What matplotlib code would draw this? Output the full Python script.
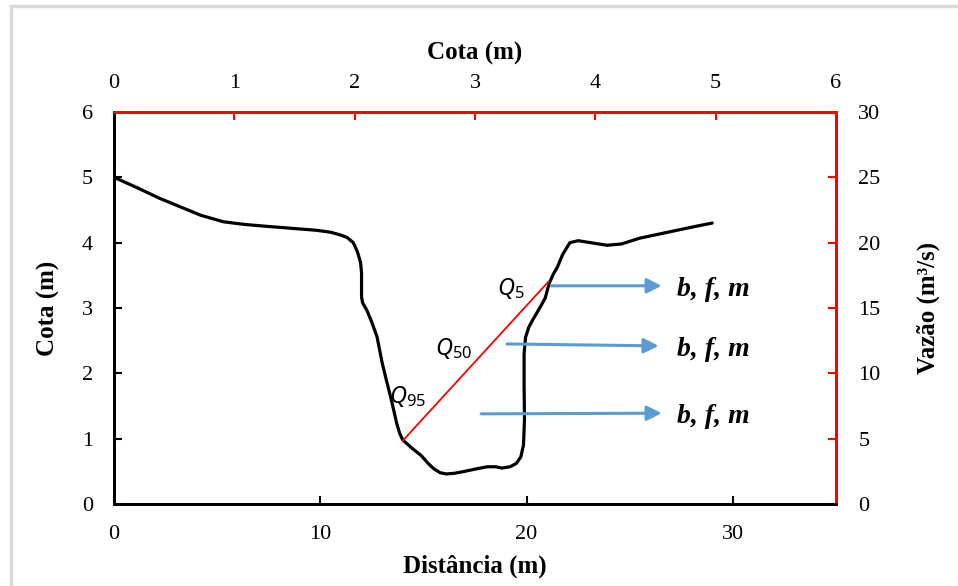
import numpy as np
import matplotlib
matplotlib.use('Agg')
import matplotlib.pyplot as plt
from matplotlib.patches import Rectangle

plt.rcParams['mathtext.fontset'] = 'custom'
plt.rcParams['mathtext.rm'] = 'Noto Sans'
plt.rcParams['mathtext.it'] = 'Noto Sans:italic'

# cross-section profile: distance (m) vs cota (m)
dist = [0.0, 0.5, 1.2, 2.2, 3.2, 4.2, 5.3, 6.3, 7.4, 8.6, 9.8, 10.5, 10.95, 11.3, 11.6,
        11.8, 11.95, 12.0, 12.0, 12.05, 12.25, 12.5, 12.75, 13.0, 13.2, 13.4, 13.55, 13.7,
        13.85, 14.0, 14.5, 14.9, 15.2, 15.5, 15.8, 16.1, 16.5, 17.0, 17.6, 18.1, 18.5,
        18.8, 19.2, 19.5, 19.72, 19.85, 19.9, 19.88, 19.88, 19.95, 20.1, 20.3, 20.6,
        20.9, 21.1, 21.3, 21.5, 21.75, 22.1, 22.5, 23.1, 23.9, 24.6, 25.5, 26.4, 27.3,
        28.2, 29.0]
cota = [5.0, 4.93, 4.83, 4.68, 4.55, 4.42, 4.32, 4.28, 4.25, 4.22, 4.19, 4.16, 4.12, 4.08, 4.0,
        3.86, 3.7, 3.54, 3.17, 3.08, 2.97, 2.78, 2.56, 2.16, 1.9, 1.65, 1.45, 1.24,
        1.08, 0.98, 0.84, 0.74, 0.63, 0.54, 0.48, 0.46, 0.47, 0.5, 0.54, 0.57, 0.57,
        0.55, 0.57, 0.62, 0.72, 0.9, 1.3, 1.8, 2.3, 2.55, 2.7, 2.82, 2.98,
        3.15, 3.38, 3.52, 3.63, 3.82, 4.0, 4.03, 4.0, 3.96, 3.98, 4.07, 4.13, 4.19,
        4.25, 4.3]

# rating line (stage -> discharge) drawn over the section
rl_x = [14.0, 21.05]
rl_y = [0.97, 3.4]

q_labels = [r'$Q_{\mathrm{95}}$', r'$Q_{\mathrm{50}}$', r'$Q_{\mathrm{5}}$']
q_x = [14.25, 16.45, 19.25]
q_y = [1.65, 2.38, 3.3]

arr_x0 = [21.2, 19.05, 17.8]
arr_x1 = [26.55, 26.4, 26.55]
arr_y0 = [3.34, 2.45, 1.38]
arr_y1 = [3.34, 2.42, 1.39]
arr_txt = 'b, f, m'

serif = 'Liberation Serif'

fig = plt.figure(figsize=(9.58, 5.86), dpi=100)
ax = fig.add_axes([114/958, 82/586, 722/958, 392/586])

ax.plot(dist, cota, color='black', lw=2.3, solid_capstyle='round', solid_joinstyle='round')
ax.plot(rl_x, rl_y, color='red', lw=1.3)
for lab, x, y in zip(q_labels, q_x, q_y):
    ax.text(x, y, lab, fontsize=17, ha='center', va='center')
for x0, x1, y0, y1 in zip(arr_x0, arr_x1, arr_y0, arr_y1):
    ax.annotate('', xy=(x1, y1), xytext=(x0, y0),
                arrowprops=dict(arrowstyle='-|>', color='#5B9BD5', lw=2.2,
                                mutation_scale=22, shrinkA=0, shrinkB=0))
    ax.text(27.3, y1 - 0.05, arr_txt, fontsize=20, family=serif, fontweight='bold',
            fontstyle='italic', va='center', ha='left')

ax.set_xlim(0, 35)
ax.set_ylim(0, 6)
ax.set_xticks([0, 10, 20, 30])
ax.set_yticks(range(0, 7))
ax.tick_params(direction='in', length=6, width=1.5, labelsize=16, pad=15)
for lab in ax.get_xticklabels() + ax.get_yticklabels():
    lab.set_family(serif)
ax.set_xlabel('Distância (m)', family=serif, fontsize=18, fontweight='bold', labelpad=8)
ax.set_ylabel('Cota (m)', family=serif, fontsize=18, fontweight='bold', labelpad=16)

axr = ax.twinx()
axr.set_ylim(0, 30)
axr.set_yticks(range(0, 31, 5))
axr.tick_params(direction='in', length=6, width=1.5, labelsize=16, pad=16, color='red')
for lab in axr.get_yticklabels():
    lab.set_family(serif)
axr.set_ylabel('Vazão (m³/s)', family=serif, fontsize=18, fontweight='bold', labelpad=26)

axt = ax.twiny()
axt.set_xlim(0, 6)
axt.set_xticks(range(0, 7))
axt.tick_params(direction='in', length=6, width=1.5, labelsize=16, pad=14, color='red')
for lab in axt.get_xticklabels():
    lab.set_family(serif)
axt.set_xlabel('Cota (m)', family=serif, fontsize=18, fontweight='bold', labelpad=10)

for a in (ax, axr, axt):
    a.spines['left'].set_color('black')
    a.spines['bottom'].set_color('black')
    a.spines['right'].set_color('red')
    a.spines['top'].set_color('red')
    for s in a.spines.values():
        s.set_linewidth(2)

fig.patches.append(Rectangle((11/958, -0.1), 1.2, (586 - 6)/586 + 0.1,
                             transform=fig.transFigure, fill=False,
                             ec='#d9d9d9', lw=2.5, clip_on=False))

fig.savefig('out.png', dpi=100)
